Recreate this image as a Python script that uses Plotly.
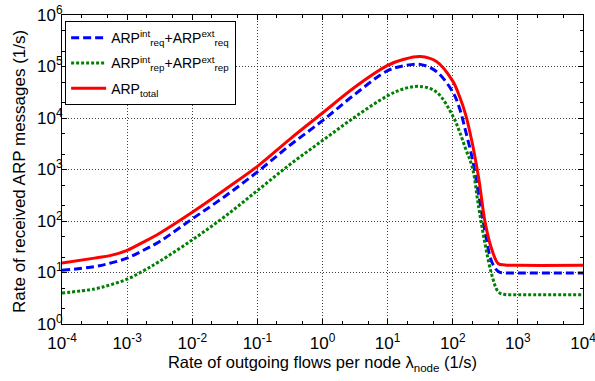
import plotly.graph_objects as go

# ---- data ----
x_tot = [1e-4, 3.16e-4, 5.62e-4, 1e-3, 1.78e-3, 3.16e-3, 1e-2, 3.16e-2, 1e-1, 3.16e-1, 1, 3.16, 10, 17.8, 31.6, 56.2,
         100, 126, 158, 200, 251, 316, 398, 501, 631, 1000, 10000]
y_tot = [15.2, 19, 21.5, 27, 39, 58, 148, 405, 1150, 3900, 12500, 40000, 105000, 138000, 156000, 125000,
         52000, 27000, 11500, 3200, 660, 90, 28, 14.8, 14, 13.8, 13.8]

x_req = [1e-4, 3.16e-4, 5.62e-4, 1e-3, 1.78e-3, 3.16e-3, 1e-2, 3.16e-2, 1e-1, 3.16e-1, 1, 3.16, 10, 17.8, 31.6, 56.2,
         100, 126, 158, 200, 251, 316, 398, 501, 631, 1000, 10000]
y_req = [11, 13, 15.3, 19, 27, 40, 110, 300, 900, 2950, 8900, 29000, 83000, 103000, 110000, 80000,
         32000, 16000, 5500, 1600, 316, 58, 16, 10.5, 9.8, 9.8, 9.8]

x_rep = [1e-4, 3.16e-4, 5.62e-4, 1e-3, 1.78e-3, 3.16e-3, 1e-2, 3.16e-2, 1e-1, 3.16e-1, 1, 3.16, 10, 17.8, 31.6, 56.2,
         100, 126, 158, 200, 251, 316, 398, 501, 631, 1000, 10000]
y_rep = [4.0, 4.8, 5.8, 7.4, 10.8, 16.5, 43, 122, 390, 1250, 3650, 10500, 27000, 37000, 41000, 32000,
         11000, 5600, 2500, 1100, 178, 34, 9, 4.2, 3.75, 3.7, 3.7]

names = ["ARP<sup>int</sup><sub>req</sub>+ARP<sup>ext</sup><sub>req</sub>",
         "ARP<sup>int</sup><sub>rep</sub>+ARP<sup>ext</sup><sub>rep</sub>",
         "ARP<sub>total</sub>"]

x_tickvals = [1e-4, 1e-3, 1e-2, 1e-1, 1, 10, 100, 1000, 10000]
x_ticktext = ["10<sup>-4</sup>", "10<sup>-3</sup>", "10<sup>-2</sup>", "10<sup>-1</sup>", "10<sup>0</sup>",
              "10<sup>1</sup>", "10<sup>2</sup>", "10<sup>3</sup>", "10<sup>4</sup>"]
y_tickvals = [1, 10, 100, 1000, 1e4, 1e5, 1e6]
y_ticktext = ["10<sup>0</sup>", "10<sup>1</sup>", "10<sup>2</sup>", "10<sup>3</sup>", "10<sup>4</sup>",
              "10<sup>5</sup>", "10<sup>6</sup>"]

x_title = "Rate of outgoing flows per node λ<sub>node</sub> (1/s)"
y_title = "Rate of received ARP messages (1/s)"

FONT = "Liberation Sans, Arial, sans-serif"

fig = go.Figure()
fig.add_trace(go.Scatter(x=x_req, y=y_req, mode="lines", name=names[0], legendgroup="a",
                         line=dict(color="#0000ff", width=3, dash="8px,4px", shape="spline", smoothing=1.0)))
fig.add_trace(go.Scatter(x=x_rep, y=y_rep, mode="lines", name=names[1], legendgroup="b",
                         line=dict(color="#008000", width=3, dash="3px,2px", shape="spline", smoothing=1.0)))
fig.add_trace(go.Scatter(x=x_tot, y=y_tot, mode="lines", name=names[2], legendgroup="c",
                         line=dict(color="#ff0000", width=3, shape="spline", smoothing=1.0)))

axis_common = dict(
    type="log", showline=True, linecolor="black", linewidth=1, mirror="allticks",
    ticks="inside", ticklen=5, tickcolor="black",
    showgrid=True, gridcolor="rgba(0,0,0,0.75)", gridwidth=1, griddash="1px,2px",
    zeroline=False, automargin=False,
    minor=dict(ticks="inside", ticklen=3, tickcolor="black", showgrid=False),
    tickfont=dict(family=FONT, size=17, color="black"),
    ticklabeloverflow="allow",
)

fig.update_xaxes(**axis_common, range=[-4, 4], tickvals=x_tickvals, ticktext=x_ticktext,
                 ticklabelstandoff=4,
                 title=dict(text=x_title, font=dict(family=FONT, size=16.5, color="black"), standoff=2))
fig.update_yaxes(**axis_common, range=[0, 6], tickvals=y_tickvals, ticktext=y_ticktext,
                 ticklabelstandoff=-5)

fig.update_layout(
    width=595, height=381,
    margin=dict(l=62, r=12, t=15, b=57),
    paper_bgcolor="white", plot_bgcolor="white",
    font=dict(family=FONT, size=15, color="black"),
    legend=dict(x=0.006, y=0.98, xanchor="left", yanchor="top",
                bgcolor="white", bordercolor="black", borderwidth=1,
                font=dict(family=FONT, size=14), tracegroupgap=4, itemwidth=35),
    showlegend=True,
    annotations=[dict(text=y_title, textangle=-90, xref="paper", yref="paper",
                      x=-0.0806, y=0.492, xanchor="center", yanchor="middle", showarrow=False,
                      font=dict(family=FONT, size=17, color="black"))],
)

# remove the browser's default 8px body margin so the figure sits at the page origin
fig.write_html("out.html", config={"displayModeBar": False},
               post_script="document.body.style.margin='0px';")
